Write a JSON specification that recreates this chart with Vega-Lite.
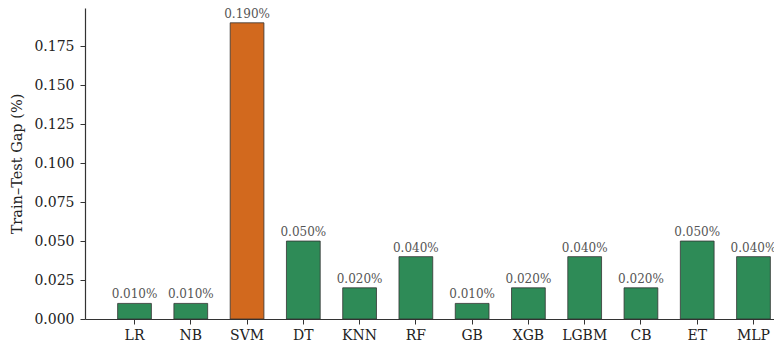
{
  "$schema": "https://vega.github.io/schema/vega-lite/v6.json",
  "width": 689,
  "height": 311,
  "autosize": {"type": "none"},
  "padding": {"left": 85, "right": 0, "top": 8, "bottom": 24},
  "background": "white",
  "config": {
    "view": {"stroke": null},
    "font": "DejaVu Serif"
  },
  "data": {
    "values": [
      {"model": "LR", "gap": 0.01, "label": "0.010%", "hl": "no"},
      {"model": "NB", "gap": 0.01, "label": "0.010%", "hl": "no"},
      {"model": "SVM", "gap": 0.19, "label": "0.190%", "hl": "yes"},
      {"model": "DT", "gap": 0.05, "label": "0.050%", "hl": "no"},
      {"model": "KNN", "gap": 0.02, "label": "0.020%", "hl": "no"},
      {"model": "RF", "gap": 0.04, "label": "0.040%", "hl": "no"},
      {"model": "GB", "gap": 0.01, "label": "0.010%", "hl": "no"},
      {"model": "XGB", "gap": 0.02, "label": "0.020%", "hl": "no"},
      {"model": "LGBM", "gap": 0.04, "label": "0.040%", "hl": "no"},
      {"model": "CB", "gap": 0.02, "label": "0.020%", "hl": "no"},
      {"model": "ET", "gap": 0.05, "label": "0.050%", "hl": "no"},
      {"model": "MLP", "gap": 0.04, "label": "0.040%", "hl": "no"}
    ]
  },
  "encoding": {
    "x": {
      "field": "model",
      "type": "nominal",
      "sort": null,
      "scale": {"range": [0, 718], "paddingInner": 0.4, "paddingOuter": 0.58},
      "axis": {
        "title": null,
        "labelAngle": 0,
        "labelFont": "DejaVu Serif",
        "labelFontSize": 14,
        "labelColor": "#222",
        "labelPadding": 4,
        "tickColor": "#333",
        "tickSize": 5,
        "domainColor": "#333",
        "domainWidth": 1.2,
        "grid": false
      }
    },
    "y": {
      "field": "gap",
      "type": "quantitative",
      "scale": {"domain": [0, 0.1995], "nice": false},
      "axis": {
        "title": "Train–Test Gap (%)",
        "titleFont": "DejaVu Serif",
        "titleFontSize": 14.5,
        "titleFontWeight": "normal",
        "titleColor": "#222",
        "titlePadding": 9,
        "values": [0, 0.025, 0.05, 0.075, 0.1, 0.125, 0.15, 0.175],
        "format": ".3f",
        "labelFont": "DejaVu Serif",
        "labelFontSize": 14,
        "labelColor": "#222",
        "labelPadding": 6,
        "tickColor": "#333",
        "tickSize": 5,
        "domainColor": "#333",
        "domainWidth": 1.2,
        "grid": false
      }
    }
  },
  "layer": [
    {
      "mark": {"type": "bar", "stroke": "#333", "strokeWidth": 0.8},
      "encoding": {
        "color": {
          "field": "hl",
          "type": "nominal",
          "scale": {"domain": ["no", "yes"], "range": ["#2e8b57", "#d2691e"]},
          "legend": null
        }
      }
    },
    {
      "mark": {"type": "text", "baseline": "bottom", "dy": -2, "fontSize": 12, "color": "#555", "font": "DejaVu Serif"},
      "encoding": {"text": {"field": "label"}}
    }
  ]
}
